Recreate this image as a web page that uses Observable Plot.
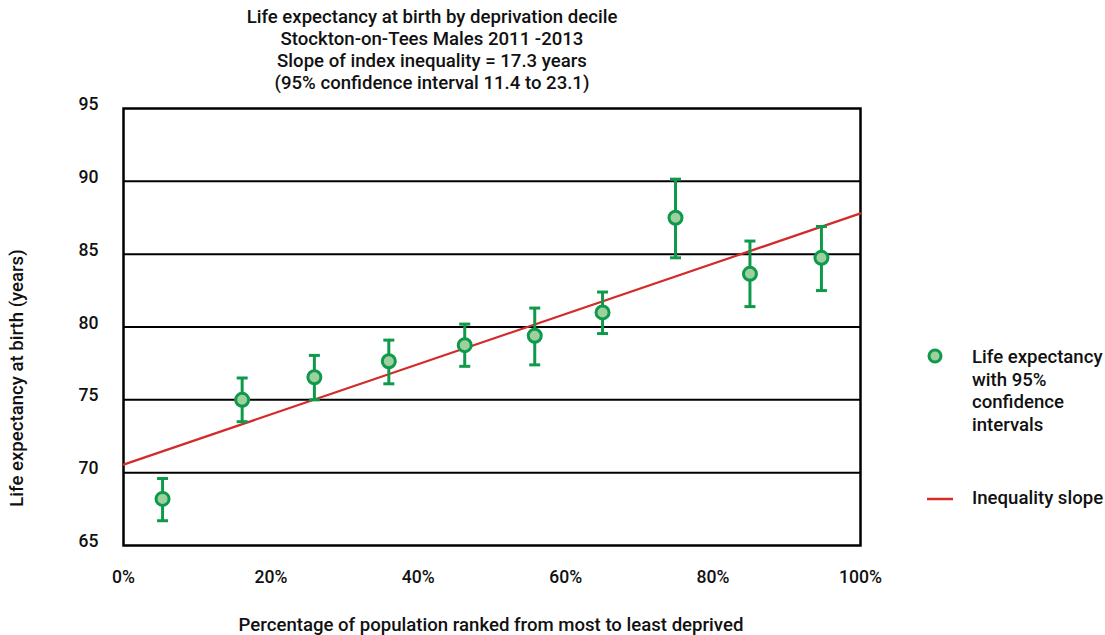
<!DOCTYPE html>
<html>
<head>
<meta charset="utf-8">
<script src="https://cdn.jsdelivr.net/npm/d3@7"></script>
<script src="https://cdn.jsdelivr.net/npm/@observablehq/plot@0.6"></script>
<style>
  html, body { margin: 0; padding: 0; background: #fff; }
  body { font-family: Roboto, "Noto Sans", sans-serif; color: #111; }
  #wrap { position: relative; width: 1105px; height: 635px; overflow: hidden; }
  #chart { position: absolute; left: 0; top: 0; }
  .t { position: absolute; font-size: 18.6px; font-weight: 500; white-space: nowrap; }
  #title { left: 432px; top: 6px; transform: translateX(-50%); text-align: center; line-height: 22px; }
  #xlab { left: 491px; top: 625px; transform: translate(-50%, -50%); line-height: 22px; }
  #ylab { left: 17px; top: 378px; transform: translate(-50%, -50%) rotate(-90deg); line-height: 22px; }
  #leg1 { left: 972px; top: 346px; line-height: 22.5px; }
  #leg2 { left: 972px; top: 487px; line-height: 22px; }
  #sym1 { position: absolute; left: 926px; top: 347px; }
  #sym2 { position: absolute; left: 926px; top: 495px; }
</style>
</head>
<body>
<div id="wrap">
  <div id="chart"></div>
  <div class="t" id="title">Life expectancy at birth by deprivation decile<br>Stockton-on-Tees Males 2011 -2013<br>Slope of index inequality = 17.3 years<br>(95% confidence interval 11.4 to 23.1)</div>
  <div class="t" id="ylab">Life expectancy at birth (years)</div>
  <div class="t" id="xlab">Percentage of population ranked from most to least deprived</div>
  <svg id="sym1" width="20" height="20"><circle cx="9" cy="9" r="6" fill="#9dcf9f" stroke="#0e9a4a" stroke-width="3"></circle></svg>
  <div class="t" id="leg1">Life expectancy<br>with 95%<br>confidence<br>intervals</div>
  <svg id="sym2" width="30" height="8"><line x1="1" x2="27" y1="4" y2="4" stroke="#d42a2a" stroke-width="2.5"></line></svg>
  <div class="t" id="leg2">Inequality slope</div>
</div>
<script>
// Data
const pct   = [5.3, 16.1, 25.9, 36.0, 46.3, 55.8, 65.0, 74.9, 85.0, 94.7];
const le    = [68.2, 75.0, 76.55, 77.65, 78.75, 79.4, 81.0, 87.5, 83.65, 84.75];
const lower = [66.7, 73.5, 75.0, 76.1, 77.3, 77.4, 79.55, 84.75, 81.4, 82.5];
const upper = [69.6, 76.5, 78.05, 79.1, 80.2, 81.3, 82.4, 90.15, 85.9, 86.9];
const slopeX = [0, 100];
const slopeY = [70.55, 87.8];
const yTicks = [65, 70, 75, 80, 85, 90, 95];
const xTicks = [0, 20, 40, 60, 80, 100];
const gridY  = [70, 75, 80, 85, 90];

const data = pct.map((p, i) => ({x: p, y: le[i], lo: lower[i], hi: upper[i]}));
const slope = slopeX.map((x, i) => ({x, y: slopeY[i]}));

const green = "#0e9a4a";
const capSymbol = {
  draw(ctx, size) {
    const r = Math.sqrt(size / Math.PI);
    ctx.moveTo(-r, 0);
    ctx.lineTo(r, 0);
  }
};

const chart = Plot.plot({
  width: 1105,
  height: 635,
  marginLeft: 123,
  marginRight: 245,
  marginTop: 108,
  marginBottom: 90,
  style: {fontFamily: "Roboto, 'Noto Sans', sans-serif", fontSize: "17.6px", fontWeight: 500, color: "#111", background: "white"},
  x: {domain: [0, 100], ticks: xTicks, tickFormat: d => d + "%", tickSize: 0, tickPadding: 25, label: null},
  y: {domain: [65, 95], ticks: yTicks, tickSize: 0, tickPadding: 25, label: null},
  marks: [
    Plot.ruleY(gridY, {stroke: "#000", strokeWidth: 2}),
    Plot.frame({stroke: "#000", strokeWidth: 2.5}),
    Plot.line(slope, {x: "x", y: "y", stroke: "#d42a2a", strokeWidth: 2.2}),
    Plot.ruleX(data, {x: "x", y1: "lo", y2: "hi", stroke: green, strokeWidth: 3}),
    Plot.dot(data, {x: "x", y: "lo", symbol: capSymbol, r: 5.5, fill: "none", stroke: green, strokeWidth: 3}),
    Plot.dot(data, {x: "x", y: "hi", symbol: capSymbol, r: 5.5, fill: "none", stroke: green, strokeWidth: 3}),
    Plot.dot(data, {x: "x", y: "y", r: 6.5, fill: "#9dcf9f", stroke: green, strokeWidth: 3})
  ]
});
chart.querySelectorAll("[aria-label='y-axis tick label']").forEach(g => g.setAttribute("transform", (g.getAttribute("transform") || "") + " translate(0,-4)"));
document.getElementById("chart").appendChild(chart);
</script>
</body>
</html>
